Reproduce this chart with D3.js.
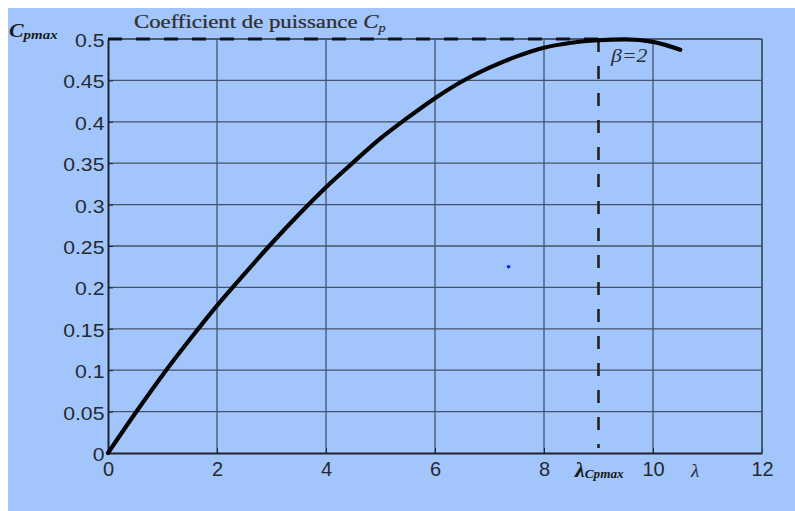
<!DOCTYPE html>
<html>
<head>
<meta charset="utf-8">
<script src="https://cdn.jsdelivr.net/npm/d3@7"></script>
<style>
  html, body { margin: 0; padding: 0; background: #ffffff; }
  svg { display: block; }
</style>
</head>
<body>
<svg id="chart" width="795" height="511"></svg>
<script>
// Tip speed ratio (lambda) and power coefficient (Cp) for pitch angle beta = 2
const lambda = [0, 0.5, 1, 1.5, 2, 2.5, 3, 3.5, 4, 4.5, 5, 5.5, 6, 6.5, 7, 7.5, 8, 8.5, 9, 9.5, 10, 10.5];
const cp     = [0, 0.048, 0.094, 0.137, 0.178, 0.216, 0.253, 0.288, 0.321, 0.351, 0.380, 0.405, 0.4285, 0.449, 0.4655, 0.479, 0.4895, 0.4955, 0.4985, 0.4995, 0.4965, 0.487];

// Optimum operating point
const lambdaOpt = 9.0;
const cpMax = 0.5;

// Axis ticks
const xTicks = [0, 2, 4, 6, 8, 10, 12];
const yTicks = [0, 0.05, 0.1, 0.15, 0.2, 0.25, 0.3, 0.35, 0.4, 0.45, 0.5];
const yTickLabels = ["0", "0.05", "0.1", "0.15", "0.2", "0.25", "0.3", "0.35", "0.4", "0.45", "0.5"];

// Stray marker in the plot area
const strayPoint = [7.35, 0.225];

const svg = d3.select("#chart");
const W = 795, H = 511;

// Panel background
svg.append("rect").attr("x", 8).attr("y", 8).attr("width", W - 8).attr("height", H - 8)
  .attr("fill", "#a2c6fc");

const x = d3.scaleLinear().domain([0, 12]).range([108, 762]);
const y = d3.scaleLinear().domain([0, 0.5]).range([453, 39]);

const gridColor = "#44536a";

// Grid lines
const grid = svg.append("g");
grid.selectAll("line.h").data(yTicks.filter(d => d > 0)).join("line")
  .attr("x1", x(0)).attr("x2", x(12))
  .attr("y1", d => y(d)).attr("y2", d => y(d))
  .attr("stroke", gridColor).attr("stroke-width", 1.3);
grid.selectAll("line.v").data(xTicks.filter(d => d > 0)).join("line")
  .attr("x1", d => x(d)).attr("x2", d => x(d))
  .attr("y1", y(0.5)).attr("y2", y(0))
  .attr("stroke", gridColor).attr("stroke-width", 1.3);

// Y axis
const yAxis = svg.append("g").attr("transform", `translate(${x(0)},0)`)
  .call(d3.axisLeft(y).tickValues(yTicks).tickFormat((d, i) => yTickLabels[i]).tickSizeInner(-5).tickSizeOuter(0).tickPadding(3));
yAxis.select(".domain").attr("stroke", "#1c2230").attr("stroke-width", 2);
yAxis.selectAll(".tick line").attr("stroke", "#1c2230");
yAxis.selectAll(".tick text")
  .attr("font-family", "Liberation Sans, Arial, sans-serif")
  .attr("font-size", 18).attr("fill", "#262a30")
  .attr("dy", "0.42em")
  .attr("transform", "scale(1.18,1)");

// X axis
const xAxis = svg.append("g").attr("transform", `translate(0,${y(0)})`)
  .call(d3.axisBottom(x).tickValues(xTicks).tickFormat(d3.format("d")).tickSizeInner(-5).tickSizeOuter(0).tickPadding(9));
xAxis.select(".domain").attr("stroke", "#1c2230").attr("stroke-width", 2.2);
xAxis.selectAll(".tick line").attr("stroke", "#1c2230");
xAxis.selectAll(".tick text")
  .attr("font-family", "Liberation Sans, Arial, sans-serif")
  .attr("font-size", 20).attr("fill", "#262a30")
  .attr("dy", "0.72em");

// Frame top and right edges
svg.append("line").attr("x1", x(0)).attr("x2", x(12)).attr("y1", y(0.5)).attr("y2", y(0.5))
  .attr("stroke", gridColor).attr("stroke-width", 1.3);
svg.append("line").attr("x1", x(12)).attr("x2", x(12)).attr("y1", y(0.5)).attr("y2", y(0))
  .attr("stroke", gridColor).attr("stroke-width", 1.5);

// Dashed guides to the optimum point
svg.append("line")
  .attr("x1", x(0)).attr("x2", x(lambdaOpt)).attr("y1", y(cpMax)).attr("y2", y(cpMax))
  .attr("stroke", "#111").attr("stroke-width", 3.2).attr("stroke-dasharray", "14,14");
svg.append("line")
  .attr("x1", x(lambdaOpt)).attr("x2", x(lambdaOpt)).attr("y1", y(cpMax)).attr("y2", y(0) - 5)
  .attr("stroke", "#222").attr("stroke-width", 2.6).attr("stroke-dasharray", "13,14");

// Cp(lambda) curve
const line = d3.line().x((d, i) => x(lambda[i])).y((d, i) => y(cp[i])).curve(d3.curveMonotoneX);
svg.append("path").datum(cp).attr("d", line)
  .attr("fill", "none").attr("stroke", "#050505").attr("stroke-width", 4.2)
  .attr("stroke-linecap", "round").attr("stroke-linejoin", "round");

// Stray marker
svg.append("circle").attr("cx", x(strayPoint[0])).attr("cy", y(strayPoint[1])).attr("r", 1.8)
  .attr("fill", "#1020ff");

const serif = "Liberation Serif, Times New Roman, serif";

// Title
const title = svg.append("text").attr("transform", "translate(134,28) scale(1.2,1)")
  .attr("font-family", serif)
  .attr("font-size", 19).attr("fill", "#2e2e2e")
  .attr("stroke", "#2e2e2e").attr("stroke-width", 0.25);
title.append("tspan").text("Coefficient de puissance ");
title.append("tspan").attr("font-style", "italic").text("C");
title.append("tspan").attr("font-style", "italic").attr("font-size", 12).attr("dy", 4).text("p");

// Cpmax marker on the y axis
const cpLabel = svg.append("text").attr("transform", "translate(9,37) scale(1.15,1)")
  .attr("font-family", serif)
  .attr("font-style", "italic").attr("font-weight", "bold").attr("fill", "#1a1a1a");
cpLabel.append("tspan").attr("font-size", 19).text("C");
cpLabel.append("tspan").attr("font-size", 13).attr("dy", 2).text("pmax");

// beta label
svg.append("text").attr("transform", "translate(611,62) scale(1.15,1)")
  .attr("font-family", serif)
  .attr("font-style", "italic").attr("font-size", 19).attr("fill", "#2a2e36")
  .text("β=2");

// lambda_Cpmax label under the optimum
const lopt = svg.append("text").attr("transform", "translate(575,477) scale(1.1,1)")
  .attr("font-family", serif)
  .attr("font-style", "italic").attr("font-weight", "bold").attr("fill", "#1a1a1a");
lopt.append("tspan").attr("font-size", 20).text("λ");
lopt.append("tspan").attr("font-size", 12).attr("dy", 1).text("Cpmax");

// x axis name
svg.append("text").attr("x", 695).attr("y", 477).attr("text-anchor", "middle")
  .attr("font-family", serif)
  .attr("font-style", "italic").attr("font-size", 19).attr("fill", "#262a30")
  .text("λ");
</script>
</body>
</html>
